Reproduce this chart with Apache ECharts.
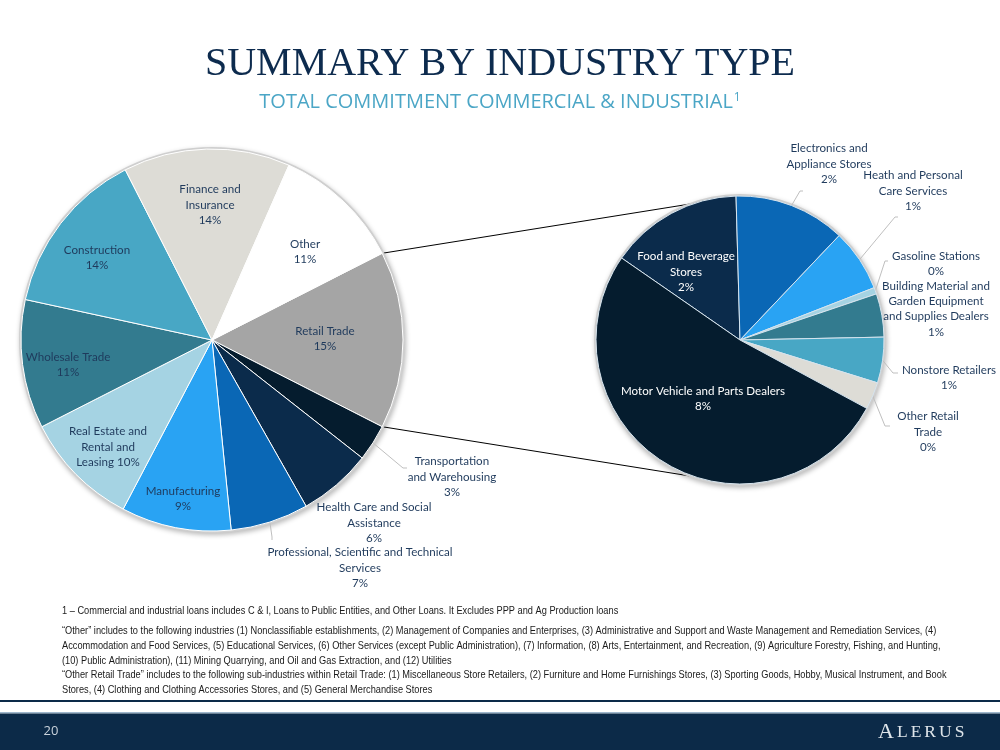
<!DOCTYPE html>
<html><head><meta charset="utf-8">
<script src="https://cdn.jsdelivr.net/npm/echarts@6/dist/echarts.min.js"></script>
<style>html,body{margin:0;padding:0;background:#fff}#c{width:1000px;height:750px}</style>
</head><body><div id="c"></div>
<script>
// ---------------- DATA ----------------
const industries = ['Retail Trade','Transportation and Warehousing','Health Care and Social Assistance',
  'Professional, Scientific and Technical Services','Manufacturing','Real Estate and Rental and Leasing',
  'Wholesale Trade','Construction','Finance and Insurance','Other'];
const industryShare = [15.0, 3.1, 6.2, 6.6, 9.3, 9.8, 10.9, 14.1, 14.1, 10.9];

const retailSubs = ['Food and Beverage Stores','Electronics and Appliance Stores','Heath and Personal Care Services',
  'Gasoline Stations','Building Material and Garden Equipment and Supplies Dealers','Nonstore Retailers',
  'Other Retail Trade','Motor Vehicle and Parts Dealers'];
const retailShare = [2.24, 1.88, 1.05, 0.11, 0.73, 0.77, 0.46, 7.77];

const footnotes = [
  '1 \u2013 Commercial and industrial loans includes C & I, Loans to Public Entities, and Other Loans. It Excludes PPP and Ag Production loans',
  '\u201cOther\u201d includes to the following industries (1) Nonclassifiable establishments, (2) Management of Companies and Enterprises, (3) Administrative and Support and Waste Management and Remediation Services, (4)',
  'Accommodation and Food Services, (5) Educational Services, (6) Other Services (except Public Administration), (7) Information, (8) Arts, Entertainment, and Recreation, (9) Agriculture Forestry, Fishing, and Hunting,',
  '(10) Public Administration), (11) Mining Quarrying, and Oil and Gas Extraction, and (12) Utilities',
  '\u201cOther Retail Trade\u201d includes to the following sub-industries within Retail Trade: (1) Miscellaneous Store Retailers, (2) Furniture and Home Furnishings Stores, (3) Sporting Goods, Hobby, Musical Instrument, and Book',
  'Stores, (4) Clothing and Clothing Accessories Stores, and (5) General Merchandise Stores'
];

// ---------------- STYLE / LAYOUT ----------------
const leftColors = ['#a5a5a5','#051c2e','#0b2b4b','#0a67b5','#29a3f3','#a5d3e3','#337b8f','#48a7c5','#dddcd6','#ffffff'];
const rightColors = ['#0b2b4b','#0a67b5','#29a3f3','#a5d3e3','#337b8f','#48a7c5','#dddcd6','#051c2e'];
const WRAP = {
  'Retail Trade': 'Retail Trade\n{p}',
  'Transportation and Warehousing': 'Transportation\nand Warehousing\n{p}',
  'Health Care and Social Assistance': 'Health Care and Social\nAssistance\n{p}',
  'Professional, Scientific and Technical Services': 'Professional, Scientific and Technical\nServices\n{p}',
  'Manufacturing': 'Manufacturing\n{p}',
  'Real Estate and Rental and Leasing': 'Real Estate and\nRental and\nLeasing {p}',
  'Wholesale Trade': 'Wholesale Trade\n{p}',
  'Construction': 'Construction\n{p}',
  'Finance and Insurance': 'Finance and\nInsurance\n{p}',
  'Other': 'Other\n{p}',
  'Food and Beverage Stores': 'Food and Beverage\nStores\n{p}',
  'Electronics and Appliance Stores': 'Electronics and\nAppliance Stores\n{p}',
  'Heath and Personal Care Services': 'Heath and Personal\nCare Services\n{p}',
  'Gasoline Stations': 'Gasoline Stations\n{p}',
  'Building Material and Garden Equipment and Supplies Dealers': 'Building Material and\nGarden Equipment\nand Supplies Dealers\n{p}',
  'Nonstore Retailers': 'Nonstore Retailers\n{p}',
  'Other Retail Trade': 'Other Retail\nTrade\n{p}',
  'Motor Vehicle and Parts Dealers': 'Motor Vehicle and Parts Dealers\n{p}'
};
// label block centres relative to the pie centre (px)
const LEFT_LABEL_OFF = {
  'Finance and Insurance': [-2, -135], 'Other': [93, -88], 'Construction': [-115, -82],
  'Retail Trade': [113, -1], 'Wholesale Trade': [-144, 25], 'Real Estate and Rental and Leasing': [-104, 107],
  'Manufacturing': [-29, 159], 'Transportation and Warehousing': [240, 137],
  'Health Care and Social Assistance': [162, 183], 'Professional, Scientific and Technical Services': [148, 228]
};
const LEFT_LEADERS = {
  'Transportation and Warehousing': [[191, 128], [195, 128]],
  'Professional, Scientific and Technical Services': [[60, 197], [60, 200]]
};
const RIGHT_LABEL_OFF = {
  'Food and Beverage Stores': [-54, -68], 'Motor Vehicle and Parts Dealers': [-37, 59],
  'Electronics and Appliance Stores': [89, -176], 'Heath and Personal Care Services': [173, -149],
  'Gasoline Stations': [196, -76], 'Building Material and Garden Equipment and Supplies Dealers': [196, -31],
  'Nonstore Retailers': [209, 38], 'Other Retail Trade': [188, 92]
};
const RIGHT_LEADERS = {
  'Electronics and Appliance Stores': [[60, -149], [63, -149]],
  'Heath and Personal Care Services': [[155, -123], [158, -123]],
  'Gasoline Stations': [[145, -79], [148, -79]],
  'Nonstore Retailers': [[153, 33], [158, 33]],
  'Other Retail Trade': [[145, 86], [150, 86]]
};
const WHITE_LABELS = ['Food and Beverage Stores', 'Motor Vehicle and Parts Dealers'];

const L = {cx: 212, cy: 340, r: 191};
const R = {cx: 740, cy: 340, r: 144};
const NAVY = '#1f3a5c';
const LABEL_FONT = 'Lato';

// ---------------- BUILD ----------------
const sum = a => a.reduce((s, v) => s + v, 0);
const retailIdx = industries.indexOf('Retail Trade');
const retailHalf = industryShare[retailIdx] / sum(industryShare) * 180; // degrees

function fmt(names) {
  return p => WRAP[names[p.dataIndex]].replace('{p}', Math.round(p.value) + '%');
}
function layoutFn(C, names, offs, leaders) {
  return function (p) {
    const n = names[p.dataIndex];
    const o = offs[n];
    const res = {x: C.cx + o[0], y: C.cy + o[1], align: 'center', verticalAlign: 'middle'};
    const l = leaders[n];
    if (l && p.labelLinePoints && p.labelLinePoints.length) {
      res.labelLinePoints = [p.labelLinePoints[0], [C.cx + l[0][0], C.cy + l[0][1]], [C.cx + l[1][0], C.cy + l[1][1]]];
    }
    return res;
  };
}
function buildData(names, vals, colors, leaders) {
  return names.map((n, i) => ({
    name: n, value: vals[i],
    itemStyle: {color: colors[i]},
    label: {color: WHITE_LABELS.includes(n) ? '#ffffff' : NAVY},
    labelLine: {show: !!leaders[n]}
  }));
}
function backdrop(C) {
  return {
    type: 'pie', center: [C.cx, C.cy], radius: [0, C.r + 2], silent: true, z: 1,
    label: {show: false}, labelLine: {show: false},
    itemStyle: {color: '#cfcfcf', shadowBlur: 5, shadowColor: 'rgba(0,0,0,0.28)', shadowOffsetX: 1, shadowOffsetY: 2},
    data: [{value: 1, name: ''}]
  };
}
const labelStyle = {position: 'outside', fontFamily: LABEL_FONT, fontSize: 11.6, lineHeight: 15.4};
const lineStyle = {show: true, length: 8, length2: 4, lineStyle: {color: '#bfbfbf', width: 1}};

const hr = retailHalf * Math.PI / 180;
const connectors = [
  {x1: L.cx + L.r * Math.cos(hr), y1: L.cy - L.r * Math.sin(hr), x2: R.cx, y2: R.cy - R.r},
  {x1: L.cx + L.r * Math.cos(hr), y1: L.cy + L.r * Math.sin(hr), x2: R.cx, y2: R.cy + R.r}
];

const logoRich = {a: {fontFamily: 'Liberation Serif', fontSize: 22, fill: '#dfe5ea', padding: [0, 1.5, 0, 0]}};
'LERUS'.split('').forEach((ch, i) => {
  logoRich['b' + i] = {fontFamily: 'Liberation Serif', fontSize: 17.5, fill: '#dfe5ea', padding: [0, 1.5, 0, 1.5]};
});
const logoText = '{a|A}' + 'LERUS'.split('').map((ch, i) => '{b' + i + '|' + ch + '}').join('');

const graphics = [];
connectors.forEach(s => graphics.push({type: 'line', z: 0, shape: s, style: {stroke: '#000', lineWidth: 1}}));
graphics.push({type: 'text', x: 500, y: 64, style: {text: 'SUMMARY BY INDUSTRY TYPE', font: '40px "Liberation Serif"', fill: '#0d2b4e', align: 'center', verticalAlign: 'middle'}});
graphics.push({type: 'text', x: 500, y: 102, style: {
  text: 'TOTAL COMMITMENT COMMERCIAL & INDUSTRIAL{s|1}', font: '20px "Open Sans"', fill: '#4ba6c6', align: 'center', verticalAlign: 'middle',
  rich: {s: {fontSize: 12, fontFamily: 'Open Sans', fill: '#4ba6c6', verticalAlign: 'top', padding: [0, 0, 9, 1]}}
}});
const fnY = [611, 631, 646, 661, 675, 690];
footnotes.forEach((t, i) => graphics.push({type: 'text', x: 62, y: fnY[i], scaleX: 0.84, style: {
  text: t, font: '11px "Liberation Sans"', fill: '#1a1a1a', align: 'left', verticalAlign: 'middle'}}));
graphics.push({type: 'rect', shape: {x: 0, y: 700, width: 1000, height: 2}, style: {fill: '#0c2a48'}});
graphics.push({type: 'rect', shape: {x: 0, y: 712, width: 1000, height: 1.5}, style: {fill: '#9fb7cc'}});
graphics.push({type: 'rect', shape: {x: 0, y: 713.5, width: 1000, height: 37}, style: {fill: '#0c2a48'}});
graphics.push({type: 'text', x: 51, y: 731, style: {text: '20', font: '13px "Open Sans"', fill: '#c9d2db', align: 'center', verticalAlign: 'middle'}});
graphics.push({type: 'text', x: 922, y: 732, style: {text: logoText, align: 'center', verticalAlign: 'middle', rich: logoRich}});

const chart = echarts.init(document.getElementById('c'), null, {renderer: 'canvas'});
chart.setOption({
  animation: false,
  backgroundColor: '#ffffff',
  graphic: graphics,
  series: [
    backdrop(L),
    {
      type: 'pie', center: [L.cx, L.cy], radius: [0, L.r], startAngle: retailHalf, clockwise: true, z: 2,
      avoidLabelOverlap: false, silent: true,
      itemStyle: {borderColor: '#ffffff', borderWidth: 1},
      label: Object.assign({formatter: fmt(industries)}, labelStyle),
      labelLine: lineStyle,
      labelLayout: layoutFn(L, industries, LEFT_LABEL_OFF, LEFT_LEADERS),
      data: buildData(industries, industryShare, leftColors, LEFT_LEADERS)
    },
    backdrop(R),
    {
      type: 'pie', center: [R.cx, R.cy], radius: [0, R.r], startAngle: 145.3, clockwise: true, z: 2,
      avoidLabelOverlap: false, silent: true,
      itemStyle: {borderColor: '#d6e4ee', borderWidth: 1},
      label: Object.assign({formatter: fmt(retailSubs)}, labelStyle),
      labelLine: lineStyle,
      labelLayout: layoutFn(R, retailSubs, RIGHT_LABEL_OFF, RIGHT_LEADERS),
      data: buildData(retailSubs, retailShare, rightColors, RIGHT_LEADERS)
    }
  ]
});
</script></body></html>
